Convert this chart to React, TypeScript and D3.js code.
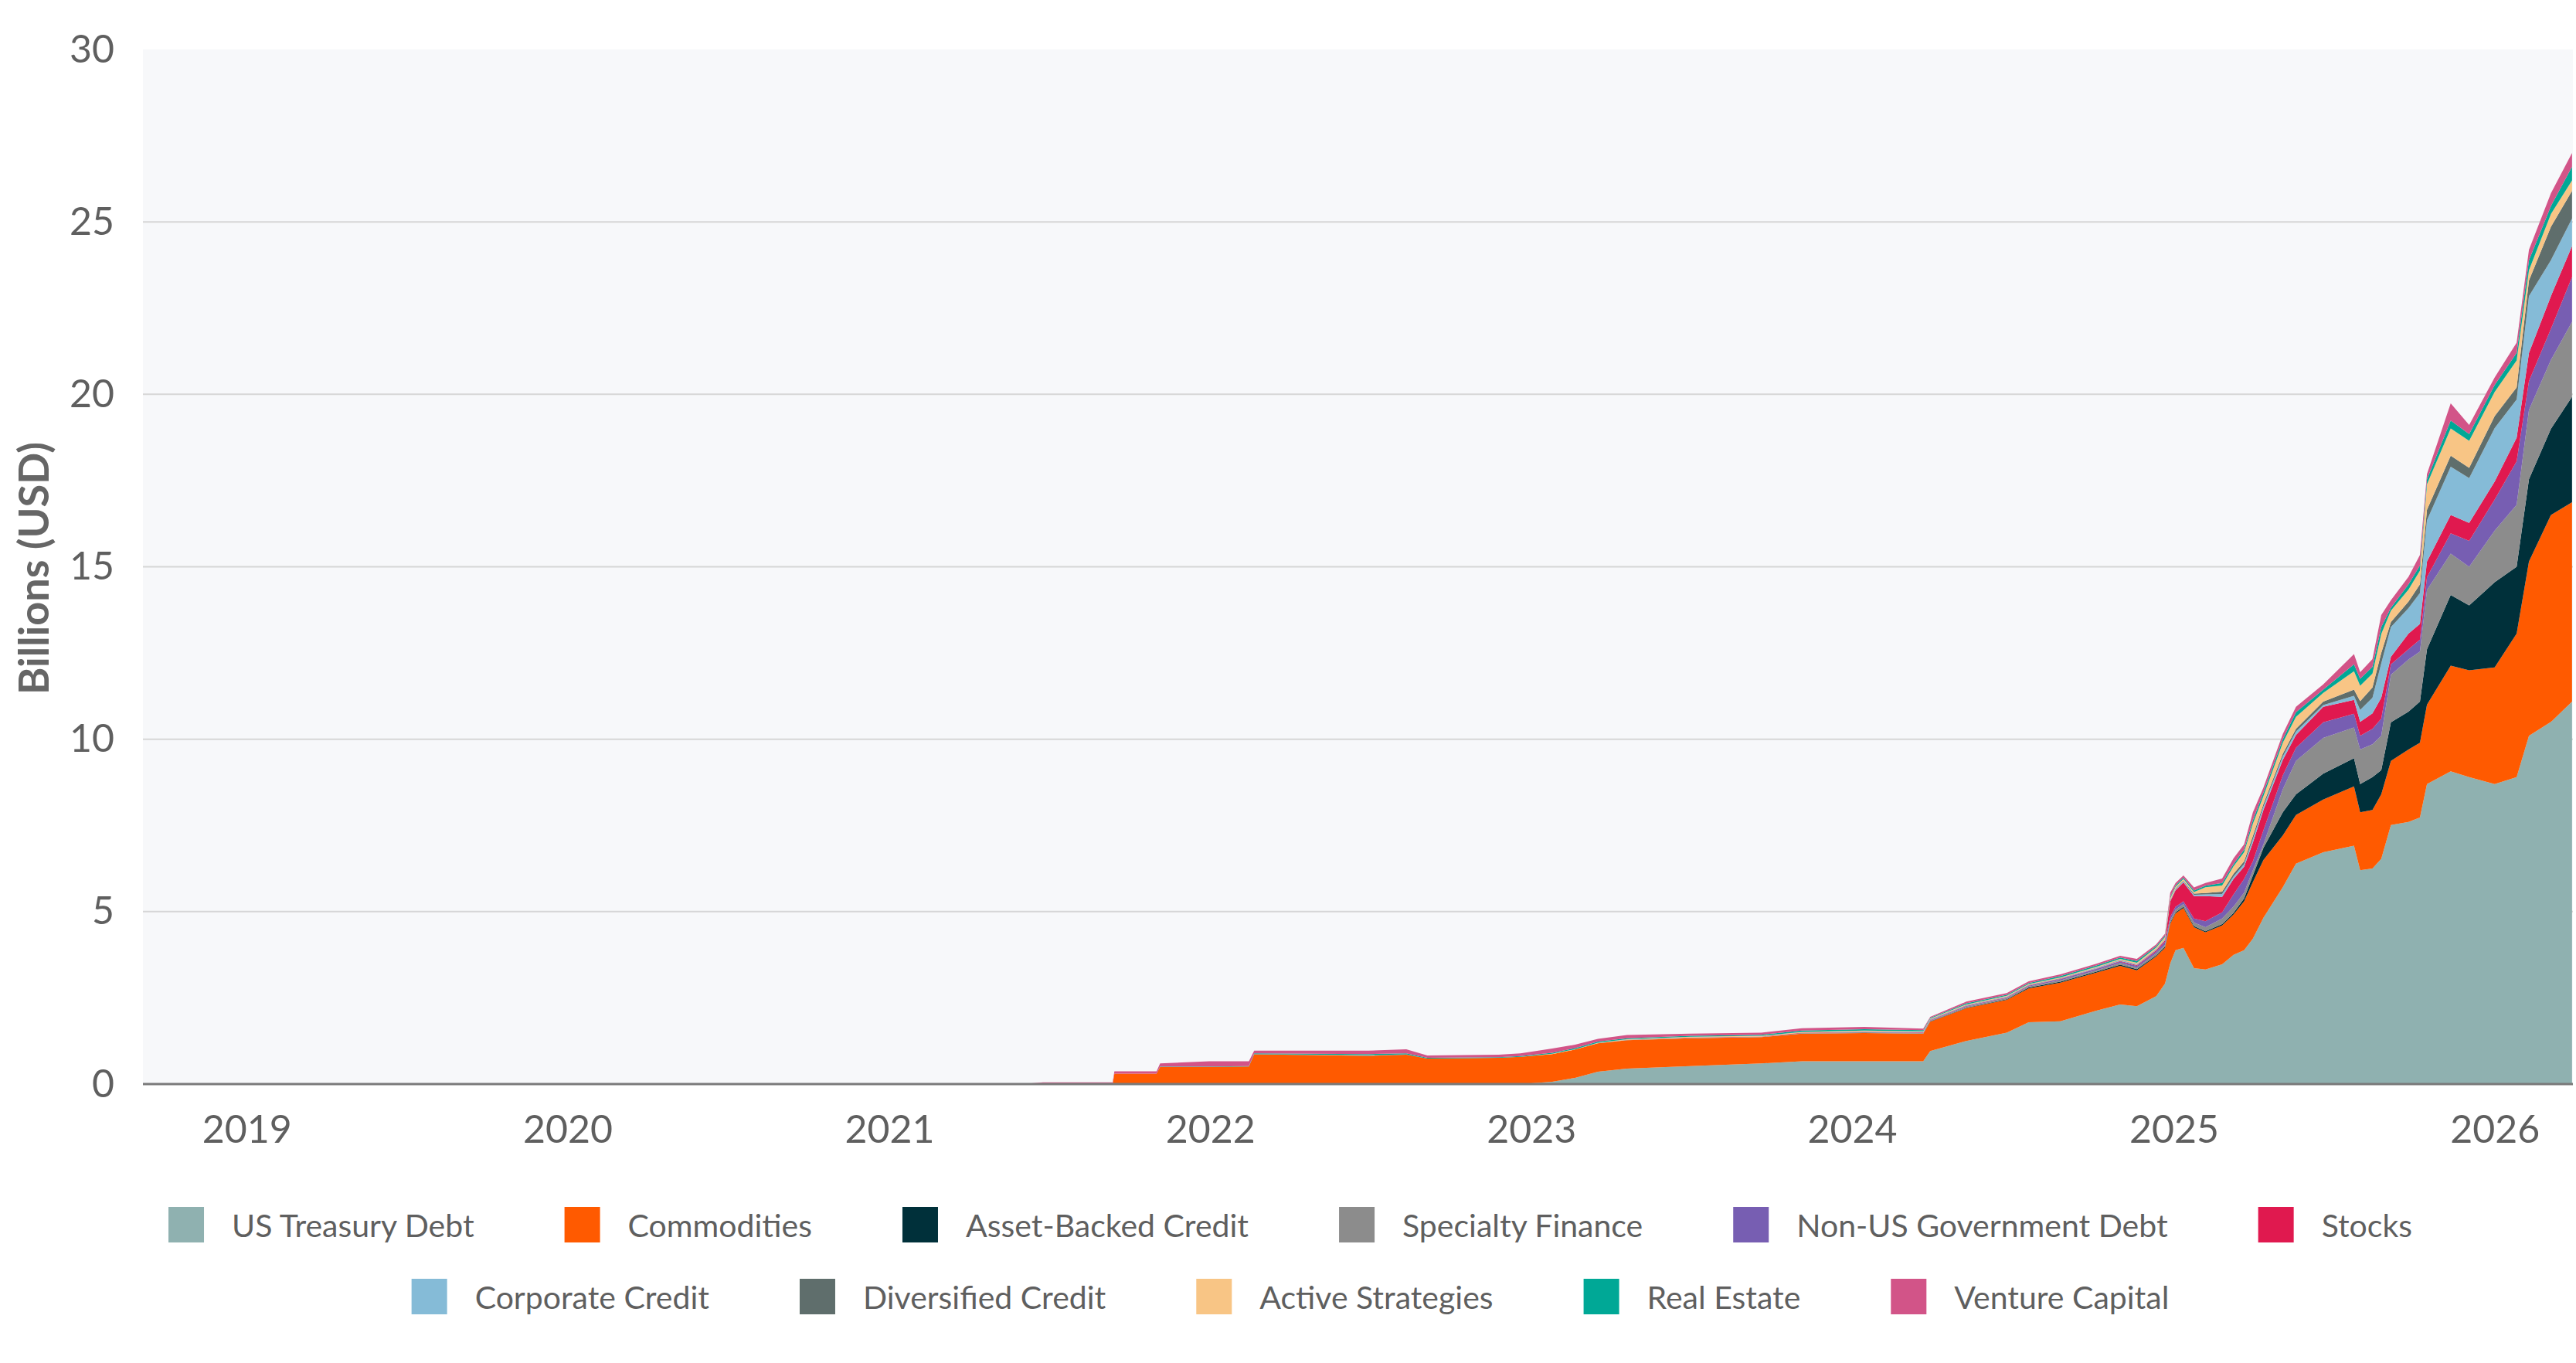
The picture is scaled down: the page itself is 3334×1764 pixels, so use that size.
import * as d3 from "d3";
import { useEffect, useRef } from "react";

const WIDTH = 3334;
const HEIGHT = 1764;
const margin = { top: 64, right: 4, bottom: 361, left: 185 };

const seriesNames = [
  "US Treasury Debt",
  "Commodities",
  "Asset-Backed Credit",
  "Specialty Finance",
  "Non-US Government Debt",
  "Stocks",
  "Corporate Credit",
  "Diversified Credit",
  "Active Strategies",
  "Real Estate",
  "Venture Capital",
];

const seriesColors = [
  "#8fb1b0",
  "#ff5a00",
  "#00303a",
  "#8c8c8c",
  "#775eb2",
  "#e0194f",
  "#85bbd7",
  "#5f6e6c",
  "#f8c585",
  "#00a896",
  "#d25488",
];

const yTicks = [0, 5, 10, 15, 20, 25, 30];
const yearTicks = ["2019", "2020", "2021", "2022", "2023", "2024", "2025", "2026"];

// weekly-ish readings, billions USD
const dates = [
  "2021-06-01", "2021-06-25", "2021-09-12", "2021-09-14", "2021-11-01", "2021-11-05",
  "2021-12-31", "2022-02-14", "2022-02-20", "2022-06-30", "2022-08-12", "2022-09-05",
  "2022-11-25", "2022-12-20", "2023-01-25", "2023-02-20", "2023-03-18", "2023-04-20",
  "2023-07-01", "2023-09-20", "2023-11-05", "2024-01-15", "2024-03-22", "2024-03-30",
  "2024-05-10", "2024-06-25", "2024-07-20", "2024-08-25", "2024-10-05", "2024-11-01",
  "2024-11-20", "2024-12-12", "2024-12-22", "2024-12-28", "2025-01-03", "2025-01-12",
  "2025-01-24", "2025-02-06", "2025-02-25", "2025-03-10", "2025-03-22", "2025-04-01",
  "2025-04-13", "2025-05-05", "2025-05-20", "2025-06-20", "2025-07-25", "2025-08-01",
  "2025-08-15", "2025-08-25", "2025-09-05", "2025-09-25", "2025-10-08", "2025-10-16",
  "2025-11-12", "2025-12-03", "2026-01-01", "2026-01-26", "2026-02-09", "2026-03-06",
  "2026-03-30",
];

const usTreasuryDebt = [
  0, 0, 0, 0, 0, 0, 0, 0, 0, 0, 0, 0, 0, 0, 0.07, 0.18, 0.36, 0.45, 0.52, 0.6, 0.66, 0.66,
  0.66, 0.96, 1.25, 1.49, 1.79, 1.82, 2.13, 2.31, 2.26, 2.55, 2.91, 3.5, 3.88, 3.95, 3.36,
  3.32, 3.47, 3.75, 3.88, 4.22, 4.82, 5.71, 6.39, 6.72, 6.91, 6.2, 6.25, 6.53, 7.51, 7.6,
  7.73, 8.7, 9.07, 8.9, 8.7, 8.9, 10.1, 10.5, 11.09,
];
const commodities = [
  0, 0, 0, 0.3, 0.3, 0.5, 0.5, 0.51, 0.86, 0.82, 0.85, 0.74, 0.76, 0.79, 0.8, 0.82, 0.82,
  0.82, 0.81, 0.76, 0.8, 0.82, 0.8, 0.85, 0.95, 0.95, 0.98, 1.12, 1.1, 1.12, 1.04, 1.15,
  1.04, 1.15, 1.07, 1.16, 1.19, 1.08, 1.13, 1.17, 1.42, 1.64, 1.68, 1.5, 1.41, 1.53, 1.72,
  1.68, 1.7, 1.87, 1.86, 2.1, 2.17, 2.3, 3.06, 3.1, 3.38, 4.16, 5.05, 6.0, 5.78,
];
const assetBackedCredit = [
  0, 0, 0, 0, 0, 0, 0, 0, 0, 0, 0, 0, 0, 0, 0, 0, 0, 0, 0, 0, 0, 0, 0, 0.01, 0.01, 0.02,
  0.03, 0.03, 0.03, 0.03, 0.03, 0.03, 0.03, 0.03, 0.03, 0.03, 0.03, 0.03, 0.04, 0.04, 0.08,
  0.19, 0.35, 0.67, 0.6, 0.75, 0.82, 0.82, 0.95, 0.7, 1.12, 1.1, 1.19, 1.61, 2.05, 1.88,
  2.47, 1.94, 2.39, 2.5, 3.06,
];
const specialtyFinance = [
  0, 0, 0, 0, 0, 0, 0, 0, 0, 0, 0, 0, 0, 0, 0, 0, 0.01, 0.01, 0.01, 0.01, 0.02, 0.02, 0.02,
  0.02, 0.03, 0.03, 0.03, 0.04, 0.04, 0.05, 0.05, 0.06, 0.06, 0.07, 0.08, 0.08, 0.1, 0.12,
  0.16, 0.19, 0.17, 0.15, 0.1, 0.67, 0.97, 1.04, 0.89, 1.0, 0.95, 1.0, 1.38, 1.51, 1.45,
  1.72, 1.2, 1.12, 1.5, 1.8, 2.01, 2.0, 2.17,
];
const nonUsGovernmentDebt = [
  0, 0, 0, 0, 0, 0, 0, 0, 0, 0, 0, 0, 0, 0, 0, 0, 0, 0, 0, 0, 0, 0.01, 0.01, 0.01, 0.02,
  0.02, 0.02, 0.03, 0.04, 0.04, 0.05, 0.06, 0.08, 0.1, 0.08, 0.08, 0.12, 0.17, 0.18, 0.35,
  0.4, 0.26, 0.41, 0.4, 0.38, 0.45, 0.4, 0.4, 0.45, 0.5, 0.3, 0.3, 0.35, 0.37, 0.59, 0.75,
  0.9, 1.26, 0.83, 0.9, 1.3,
];
const stocks = [
  0, 0, 0, 0, 0, 0, 0, 0, 0, 0, 0, 0, 0, 0, 0, 0, 0, 0, 0.01, 0.01, 0.01, 0.01, 0.01, 0.01,
  0.01, 0.01, 0.01, 0.01, 0.01, 0.02, 0.02, 0.03, 0.05, 0.45, 0.48, 0.55, 0.65, 0.73, 0.45,
  0.45, 0.35, 0.54, 0.59, 0.45, 0.37, 0.45, 0.4, 0.4, 0.45, 0.6, 0.22, 0.45, 0.45, 0.45,
  0.53, 0.52, 0.52, 0.68, 0.82, 0.95, 0.9,
];
const corporateCredit = [
  0, 0, 0, 0, 0, 0, 0, 0, 0, 0, 0, 0, 0, 0, 0, 0, 0, 0, 0, 0, 0, 0.01, 0.01, 0.01, 0.01,
  0.01, 0.01, 0.01, 0.02, 0.02, 0.02, 0.02, 0.02, 0.02, 0.03, 0.03, 0.04, 0.05, 0.08, 0.07,
  0.08, 0.1, 0.1, 0.1, 0.1, 0.05, 0.12, 0.35, 0.45, 1.0, 0.86, 0.74, 0.9, 1.2, 1.4, 1.3,
  1.55, 1.11, 1.65, 1.04, 0.8,
];
const diversifiedCredit = [
  0, 0, 0, 0, 0, 0, 0, 0, 0.01, 0.01, 0.01, 0, 0, 0, 0, 0, 0, 0, 0, 0, 0, 0, 0, 0.01, 0.01,
  0.01, 0.01, 0.01, 0.01, 0.01, 0.01, 0.01, 0.01, 0.01, 0.02, 0.02, 0.03, 0.04, 0.07, 0.08,
  0.08, 0.1, 0.07, 0.08, 0.08, 0.1, 0.18, 0.25, 0.3, 0.3, 0.15, 0.19, 0.25, 0.3, 0.32, 0.3,
  0.35, 0.35, 0.45, 0.97, 0.8,
];
const activeStrategies = [
  0, 0, 0, 0, 0, 0, 0, 0, 0, 0.01, 0, 0, 0, 0, 0.01, 0.01, 0.01, 0.02, 0.02, 0.02, 0.02,
  0.02, 0.02, 0.02, 0.02, 0.02, 0.02, 0.02, 0.02, 0.03, 0.04, 0.05, 0.06, 0.06, 0.05, 0.05,
  0.05, 0.17, 0.18, 0.22, 0.26, 0.35, 0.23, 0.32, 0.35, 0.25, 0.53, 0.45, 0.4, 0.55, 0.33,
  0.35, 0.4, 0.74, 0.79, 0.78, 0.7, 0.78, 0.3, 0.37, 0.3,
];
const realEstate = [
  0, 0, 0, 0, 0, 0.01, 0.01, 0.01, 0.02, 0.03, 0.03, 0.02, 0.02, 0.02, 0.03, 0.03, 0.03,
  0.03, 0.03, 0.03, 0.04, 0.04, 0.03, 0.02, 0.03, 0.03, 0.03, 0.04, 0.04, 0.04, 0.05, 0.04,
  0.04, 0.04, 0.04, 0.04, 0.04, 0.04, 0.07, 0.06, 0.08, 0.1, 0.1, 0.1, 0.13, 0.1, 0.2, 0.2,
  0.2, 0.2, 0.08, 0.15, 0.15, 0.15, 0.23, 0.2, 0.2, 0.22, 0.29, 0.23, 0.4,
];
const ventureCapital = [
  0, 0.05, 0.05, 0.07, 0.07, 0.09, 0.15, 0.14, 0.08, 0.1, 0.12, 0.07, 0.07, 0.08, 0.12, 0.1,
  0.08, 0.09, 0.06, 0.06, 0.07, 0.07, 0.05, 0.03, 0.05, 0.05, 0.05, 0.05, 0.05, 0.05, 0.06,
  0.05, 0.06, 0.12, 0.07, 0.06, 0.09, 0.08, 0.13, 0.17, 0.15, 0.23, 0.15, 0.15, 0.16, 0.15,
  0.3, 0.19, 0.22, 0.35, 0.22, 0.22, 0.3, 0.15, 0.5, 0.26, 0.22, 0.3, 0.3, 0.37, 0.4,
];

const seriesValues = [
  usTreasuryDebt,
  commodities,
  assetBackedCredit,
  specialtyFinance,
  nonUsGovernmentDebt,
  stocks,
  corporateCredit,
  diversifiedCredit,
  activeStrategies,
  realEstate,
  ventureCapital,
];

const legendRows = [
  [0, 1, 2, 3, 4, 5],
  [6, 7, 8, 9, 10],
];

export default function App() {
  const svgRef = useRef<SVGSVGElement>(null);

  useEffect(() => {
    if (!svgRef.current) return;
    document.body.style.margin = "0";

    const svg = d3.select(svgRef.current);
    svg.selectAll("*").remove();

    const parse = d3.timeParse("%Y-%m-%d");
    const rows = dates.map((d, i) => {
      const row: any = { date: parse(d) };
      seriesNames.forEach((name, k) => (row[name] = seriesValues[k][i]));
      return row;
    });

    const x = d3
      .scaleTime()
      .domain([parse("2018-09-05")!, parse("2026-03-31")!])
      .range([margin.left, WIDTH - margin.right]);
    const y = d3
      .scaleLinear()
      .domain([0, 30])
      .range([HEIGHT - margin.bottom, margin.top]);

    const textColor = "#5f5f5f";
    const font = "Lato, 'Open Sans', sans-serif";

    // plot background
    svg
      .append("rect")
      .attr("x", x.range()[0])
      .attr("y", y(30))
      .attr("width", x.range()[1] - x.range()[0])
      .attr("height", y(0) - y(30))
      .attr("fill", "#f7f8fa");

    // gridlines
    svg
      .append("g")
      .selectAll("line")
      .data(yTicks.filter((t) => t > 0 && t < 30))
      .join("line")
      .attr("x1", x.range()[0])
      .attr("x2", x.range()[1])
      .attr("y1", (d) => y(d))
      .attr("y2", (d) => y(d))
      .attr("stroke", "#d6d6d6")
      .attr("stroke-width", 2);

    const stack = d3.stack().keys(seriesNames);
    const layers = stack(rows);

    const area = d3
      .area<any>()
      .x((d) => x(d.data.date))
      .y0((d) => y(d[0]))
      .y1((d) => y(d[1]));

    svg
      .append("g")
      .selectAll("path")
      .data(layers)
      .join("path")
      .attr("fill", (_, i) => seriesColors[i])
      .attr("d", area as any);

    // baseline
    svg
      .append("line")
      .attr("x1", x.range()[0])
      .attr("x2", x.range()[1])
      .attr("y1", y(0))
      .attr("y2", y(0))
      .attr("stroke", "#7a7a7a")
      .attr("stroke-width", 3);

    // y axis
    svg
      .append("g")
      .attr("transform", `translate(${margin.left},0)`)
      .call(d3.axisLeft(y).tickValues(yTicks).tickSize(0).tickPadding(37))
      .call((g) => g.select(".domain").remove())
      .call((g) =>
        g
          .selectAll("text")
          .attr("fill", textColor)
          .attr("font-family", font)
          .attr("font-size", 50),
      );

    // x axis
    svg
      .append("g")
      .attr("transform", `translate(0,${y(0)})`)
      .call(
        d3
          .axisBottom(x)
          .tickValues(yearTicks.map((t) => parse(`${t}-01-01`)!))
          .tickFormat(d3.timeFormat("%Y") as any)
          .tickSize(0)
          .tickPadding(40),
      )
      .call((g) => g.select(".domain").remove())
      .call((g) =>
        g
          .selectAll("text")
          .attr("fill", textColor)
          .attr("font-family", font)
          .attr("font-size", 50),
      );

    // y title
    svg
      .append("text")
      .attr("transform", `translate(42,${(y(0) + y(30)) / 2 + 2}) rotate(-90)`)
      .attr("text-anchor", "middle")
      .attr("dominant-baseline", "central")
      .attr("font-family", font)
      .attr("font-weight", "bold")
      .attr("font-size", 54)
      .attr("fill", "#666")
      .text("Billions (USD)");

    // legend
    const swatch = 46;
    const swatchGap = 36;
    const itemGap = 117;
    const centerX = 1670;
    const rowY = [1585, 1678];

    legendRows.forEach((items, r) => {
      const g = svg.append("g");
      const entries = items.map((k) => {
        const eg = g.append("g");
        eg.append("rect")
          .attr("width", swatch)
          .attr("height", swatch)
          .attr("y", rowY[r] - swatch / 2)
          .attr("fill", seriesColors[k]);
        const t = eg
          .append("text")
          .attr("x", swatch + swatchGap)
          .attr("y", rowY[r])
          .attr("dominant-baseline", "central")
          .attr("font-family", font)
          .attr("font-size", 41)
          .attr("fill", textColor)
          .text(seriesNames[k]);
        const w = (t.node() as SVGTextElement).getComputedTextLength();
        return { eg, w: swatch + swatchGap + w };
      });
      const total =
        d3.sum(entries, (e) => e.w) + itemGap * (entries.length - 1);
      let cx = centerX - total / 2;
      entries.forEach((e) => {
        e.eg.attr("transform", `translate(${cx},0)`);
        cx += e.w + itemGap;
      });
    });
  }, []);

  return (
    <svg
      ref={svgRef}
      width={WIDTH}
      height={HEIGHT}
      viewBox={`0 0 ${WIDTH} ${HEIGHT}`}
      style={{ display: "block", background: "#ffffff" }}
    />
  );
}
